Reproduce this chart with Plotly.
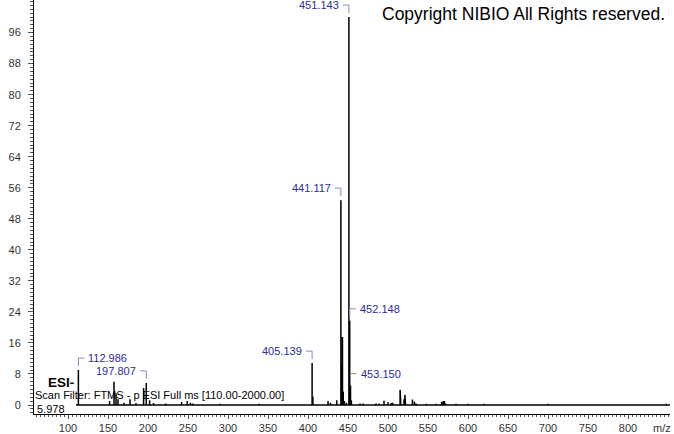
import plotly.graph_objects as go

# scan range (m/z) from the scan filter
SCAN_LO = 110.0
SCAN_HI = 2000.0

# centroid peaks: m/z and relative abundance (%)
peak_mz = [112.986, 152.0, 157.5, 160.0, 162.5, 170.0, 177.5, 185.0, 194.5, 197.807,
           202.0, 207.0, 222.0, 242.0, 249.0, 253.0, 256.0, 290.0, 339.0,
           405.139, 406.1, 425.0, 428.0, 436.0, 441.117, 442.1, 443.1, 444.1, 445.5, 448.0,
           451.143, 452.148, 453.150, 454.2, 465.0, 469.0, 485.0, 489.0, 495.0, 500.0,
           504.0, 506.0, 515.1, 516.0, 520.0, 521.1, 522.0, 530.5, 533.0, 535.0,
           548.0, 560.0, 567.0, 569.0, 570.5, 572.0, 585.0, 600.0, 620.0, 700.0, 848.0]
peak_int = [9.0, 1.0, 6.0, 3.0, 1.5, 0.6, 1.5, 0.5, 4.4, 5.7,
            1.2, 0.5, 0.4, 0.8, 1.0, 0.6, 0.4, 0.3, 0.3,
            10.8, 2.1, 1.0, 0.6, 1.2, 52.8, 10.3, 17.5, 3.5, 1.0, 0.6,
            100.0, 21.7, 5.0, 1.2, 0.4, 0.4, 0.4, 0.4, 1.1, 0.7,
            0.5, 0.6, 3.9, 1.0, 1.5, 2.6, 1.5, 1.4, 0.9, 0.4,
            0.3, 0.3, 0.8, 1.0, 1.0, 0.4, 0.3, 0.3, 0.3, 0.3, 0.3]

# labelled peaks and the side their label sits on
label_mz = [112.986, 197.807, 405.139, 441.117, 451.143, 452.148, 453.150]
label_side = ["right", "left", "left", "left", "left", "right", "right"]

x_ticks = list(range(100, 801, 50))
y_ticks = list(range(0, 97, 8))

FONT = "Liberation Sans, Arial, sans-serif"
LABEL_COL = "#2b2b9e"
BRACKET_COL = "#8a8ab8"

# stick spectrum drawn as one line with a zero baseline
xs, ys = [SCAN_LO], [0]
for m, h in zip(peak_mz, peak_int):
    xs += [m, m, m]
    ys += [0, h, 0]
xs.append(SCAN_HI)
ys.append(0)

fig = go.Figure()
fig.add_trace(go.Scatter(x=xs, y=ys, mode="lines",
                         line=dict(color="black", width=1.5),
                         hoverinfo="skip", showlegend=False))

height_of = dict(zip(peak_mz, peak_int))
for m, side in zip(label_mz, label_side):
    h = height_of[m]
    sgn = -1 if side == "left" else 1
    fig.add_annotation(x=m, y=h, text=f"{m:.3f}", showarrow=False,
                       xanchor="right" if side == "left" else "left", yanchor="middle",
                       xshift=sgn * 8, yshift=12,
                       font=dict(family=FONT, size=11, color=LABEL_COL))
    # bracket: short vertical above the peak then across to the label
    fig.add_shape(type="line", xref="x", yref="y",
                  xsizemode="pixel", ysizemode="pixel", xanchor=m, yanchor=h,
                  x0=0, x1=0, y0=4, y1=12,
                  line=dict(color=BRACKET_COL, width=1))
    fig.add_shape(type="line", xref="x", yref="y",
                  xsizemode="pixel", ysizemode="pixel", xanchor=m, yanchor=h,
                  x0=0, x1=sgn * 6, y0=12, y1=12,
                  line=dict(color=BRACKET_COL, width=1))

fig.add_annotation(xref="paper", yref="paper", x=0.996, y=0.966,
                   text="Copyright NIBIO All Rights reserved.", showarrow=False,
                   xanchor="right", yanchor="middle",
                   font=dict(family=FONT, size=17.5, color="black"))
fig.add_annotation(xref="paper", yref="paper", x=0.019, y=0.077, text="<b>ESI-</b>",
                   showarrow=False, xanchor="left", yanchor="middle",
                   font=dict(family=FONT, size=13.5, color="black"))
fig.add_annotation(xref="paper", yref="paper", x=-0.001, y=0.045,
                   text="Scan Filter: FTMS - p ESI Full ms [110.00-2000.00]",
                   showarrow=False, xanchor="left", yanchor="middle",
                   font=dict(family=FONT, size=11, color="black"))
fig.add_annotation(xref="paper", yref="paper", x=0.002, y=0.013, text="5.978",
                   showarrow=False, xanchor="left", yanchor="middle",
                   font=dict(family=FONT, size=11, color="black"))
fig.add_annotation(xref="paper", yref="paper", x=0.987, y=-0.034, text="m/z",
                   showarrow=False, xanchor="center", yanchor="middle",
                   font=dict(family=FONT, size=11, color="#333"))

fig.update_layout(
    width=674, height=434,
    margin=dict(l=34, r=4, t=0, b=20),
    paper_bgcolor="white", plot_bgcolor="white",
    font=dict(family=FONT, size=11, color="#333"),

    xaxis=dict(
        range=[57.5, 852.5], showgrid=False, zeroline=False, automargin=False,
        showline=True, linecolor="black", linewidth=1,
        tickmode="array", tickvals=x_ticks,
        ticks="outside", ticklen=4, tickcolor="#555",
        minor=dict(dtick=5, tick0=0, ticks="outside", ticklen=2, tickcolor="#555"),
    ),
    yaxis=dict(
        range=[-2.32, 104.4], showgrid=False, zeroline=False, automargin=False,
        showline=True, linecolor="black", linewidth=1,
        tickmode="array", tickvals=y_ticks, ticklabelstandoff=5,
        ticks="outside", ticklen=5, tickcolor="#555",
        minor=dict(dtick=1, tick0=0, ticks="outside", ticklen=3, tickcolor="#555"),
    ),
)

# drop the page's default body margin so the figure sits at the window's corner
fig.write_html("out.html", config={"displayModeBar": False},
               post_script="document.body.style.margin='0px';")
